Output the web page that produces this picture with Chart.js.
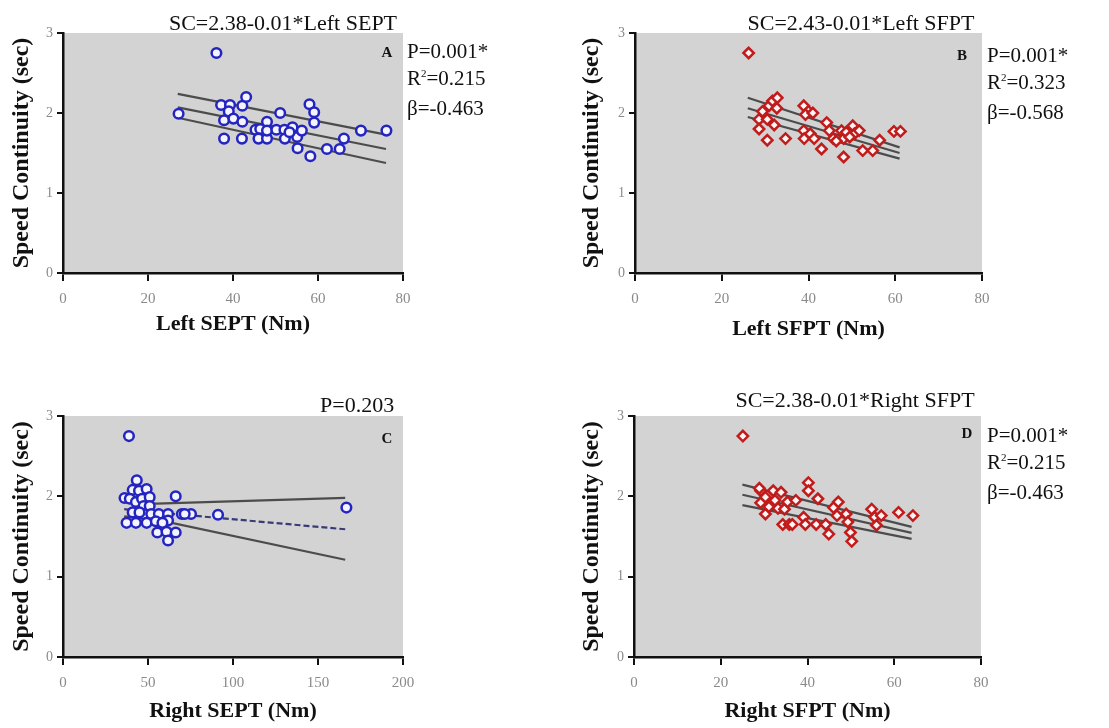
<!DOCTYPE html>
<html>
<head>
<meta charset="utf-8">
<script src="https://cdn.jsdelivr.net/npm/chart.js@4.4.1/dist/chart.umd.min.js"></script>
<style>
  body { margin: 0; background: #fff; width: 1109px; height: 728px; overflow: hidden; position: relative;
         font-family: 'Liberation Serif', 'Times New Roman', serif; color: #111; }
  canvas { position: absolute; }
  .t { position: absolute; white-space: nowrap; font-size: 22px; line-height: 25px; }
  .side { position: absolute; white-space: nowrap; font-size: 21px; line-height: 27px; }
  .side .sup { font-size: 11px; position: relative; top: -8px; }
  .tag { position: absolute; width: 30px; text-align: center; font-size: 15px; font-weight: bold; line-height: 18px; }
</style>
</head>
<body>
<canvas id="chartA" width="554" height="364" style="left:0;top:0"></canvas>
<canvas id="chartB" width="554" height="364" style="left:555px;top:0"></canvas>
<canvas id="chartC" width="554" height="364" style="left:0;top:364px"></canvas>
<canvas id="chartD" width="554" height="364" style="left:555px;top:364px"></canvas>

<div class="t" style="left:133px;top:10px;width:300px;text-align:center">SC=2.38-0.01*Left SEPT</div>
<div class="t" style="left:711px;top:10px;width:300px;text-align:center">SC=2.43-0.01*Left SFPT</div>
<div class="t" style="left:320px;top:392px">P=0.203</div>
<div class="t" style="left:705px;top:387px;width:300px;text-align:center">SC=2.38-0.01*Right SFPT</div>

<div class="side" style="left:407px;top:38px">P=0.001*<br>R<span class="sup">2</span>=0.215<br>β=-0.463</div>
<div class="side" style="left:987px;top:42px">P=0.001*<br>R<span class="sup">2</span>=0.323<br>β=-0.568</div>
<div class="side" style="left:987px;top:422px">P=0.001*<br>R<span class="sup">2</span>=0.215<br>β=-0.463</div>

<div class="tag" style="left:372px;top:43px">A</div>
<div class="tag" style="left:947px;top:46px">B</div>
<div class="tag" style="left:372px;top:429px">C</div>
<div class="tag" style="left:952px;top:424px">D</div>

<script>
// Tick labels
const yTicks = [0, 1, 2, 3];
const xTicksNarrow = [0, 20, 40, 60, 80];
const xTicksWide = [0, 50, 100, 150, 200];

// A - Left SEPT
const leftSeptX = [36.1, 27.2, 37.2, 39.3, 39.0, 37.9, 40.1, 42.2, 43.1, 42.2, 37.9, 42.1, 51.1, 48.0, 45.3, 46.4, 46.0, 48.0,
                   48.0, 50.2, 52.1, 52.2, 54.0, 55.1, 55.2, 56.2, 53.3, 58.0, 59.1, 59.1, 58.2, 62.1, 65.1, 66.1, 70.1, 76.1];
const leftSeptY = [2.75, 1.99, 2.10, 2.10, 2.02, 1.91, 1.93, 2.09, 2.20, 1.89, 1.68, 1.68, 2.00, 1.89, 1.79, 1.80, 1.68, 1.68,
                   1.78, 1.79, 1.79, 1.68, 1.82, 1.70, 1.56, 1.78, 1.76, 2.11, 2.01, 1.88, 1.46, 1.55, 1.55, 1.68, 1.78, 1.78];
const leftSeptLineX = [27, 76];
const leftSeptFit = [2.07, 1.55];
const leftSeptUpper = [2.24, 1.73];
const leftSeptLower = [1.94, 1.375];

// B - Left SFPT
const leftSfptX = [26.2, 28.6, 28.6, 29.4, 30.5, 30.9, 31.7, 32.8, 32.7, 30.5, 34.7, 38.9, 40.0, 39.3, 38.9, 39.0, 40.4, 41.3, 43.0,
                   44.2, 44.8, 45.7, 47.6, 48.1, 48.1, 48.7, 50.2, 50.6, 51.7, 52.5, 54.8, 56.4, 59.7, 61.2, 32.1, 46.4, 41.0, 49.5];
const leftSfptY = [2.75, 1.92, 1.80, 2.02, 1.92, 2.09, 2.15, 2.19, 2.06, 1.66, 1.68, 2.09, 2.02, 1.98, 1.78, 1.68, 1.74, 1.68, 1.55,
                   1.88, 1.78, 1.68, 1.78, 1.68, 1.45, 1.76, 1.84, 1.74, 1.78, 1.53, 1.53, 1.66, 1.77, 1.77, 1.85, 1.65, 2.00, 1.70];
const leftSfptLineX = [26, 61];
const leftSfptFit = [2.06, 1.50];
const leftSfptUpper = [2.19, 1.57];
const leftSfptLower = [1.95, 1.43];

// C - Right SEPT
const rightSeptX = [38.8, 36.2, 43.4, 41.0, 44.7, 49.2, 39.3, 42.9, 46.5, 51.0, 47.4, 51.0, 41.0, 47.4, 51.9, 56.4, 61.8, 69.9,
                    75.3, 37.4, 42.9, 49.2, 54.6, 61.8, 55.5, 60.9, 66.3, 61.8, 66.3, 91.2, 166.7, 71.6, 58.5, 45.0];
const rightSeptY = [2.75, 1.98, 2.20, 2.08, 2.07, 2.09, 1.97, 1.93, 1.97, 1.99, 1.88, 1.88, 1.80, 1.78, 1.78, 1.78, 1.78, 1.78,
                    1.78, 1.67, 1.67, 1.67, 1.69, 1.70, 1.55, 1.56, 1.55, 1.45, 2.00, 1.77, 1.86, 1.78, 1.67, 1.80];
const rightSeptLineX = [36, 55, 166];
const rightSeptFit = [1.84, 1.80, 1.59];
const rightSeptUpper = [1.93, 1.91, 1.98];
const rightSeptLower = [1.75, 1.71, 1.21];

// D - Right SFPT
const rightSfptX = [25.1, 29.2, 29.2, 30.3, 30.3, 32.1, 32.5, 31.1, 33.2, 33.9, 34.7, 35.4, 37.3, 34.3, 35.8, 39.1, 39.5, 40.2, 40.2,
                    42.4, 42.0, 44.2, 44.9, 46.0, 47.1, 46.8, 48.9, 49.3, 49.9, 50.2, 54.8, 55.5, 55.9, 57.0, 61.0, 64.3, 28.9, 36.5];
const rightSfptY = [2.75, 2.07, 1.92, 1.99, 1.78, 2.07, 1.95, 1.87, 1.85, 2.05, 1.84, 1.93, 1.95, 1.65, 1.65, 1.74, 1.65, 2.17, 2.07,
                    1.97, 1.65, 1.65, 1.53, 1.86, 1.93, 1.76, 1.78, 1.68, 1.55, 1.44, 1.84, 1.74, 1.64, 1.76, 1.80, 1.76, 2.10, 1.65];
const rightSfptLineX = [25, 64];
const rightSfptFit = [2.02, 1.545];
const rightSfptUpper = [2.145, 1.62];
const rightSfptLower = [1.89, 1.47];

Chart.defaults.font.family = "'Liberation Serif', 'Times New Roman', serif";

function toPoints(xs, ys) {
    return xs.map((x, i) => ({ x: x, y: ys[i] }));
}

// gray plot area behind the marks
const plotBg = {
    id: 'plotBg',
    beforeDraw(chart) {
        const { ctx, chartArea: a } = chart;
        ctx.save();
        ctx.fillStyle = '#d3d3d3';
        ctx.fillRect(a.left, a.top, a.right - a.left, a.bottom - a.top);
        ctx.restore();
    }
};

function lineSet(xs, ys, color, dash) {
    return {
        data: toPoints(xs, ys),
        showLine: true,
        borderColor: color,
        borderWidth: 2.2,
        borderDash: dash || [],
        pointRadius: 0,
        fill: false,
        tension: 0
    };
}

function makePanel(id, p) {
    const axisH = 70;
    new Chart(document.getElementById(id), {
        type: 'scatter',
        data: {
            datasets: [
                {
                    data: toPoints(p.xs, p.ys),
                    pointStyle: p.shape,
                    pointRadius: p.radius,
                    borderWidth: 2.5,
                    borderColor: p.color,
                    pointBorderColor: p.color,
                    backgroundColor: p.fill,
                    pointBackgroundColor: p.fill
                },
                lineSet(p.lineX, p.upper, '#4c4c4c'),
                lineSet(p.lineX, p.fit, p.fitColor || '#4c4c4c', p.fitDash),
                lineSet(p.lineX, p.lower, '#4c4c4c')
            ]
        },
        options: {
            responsive: false,
            animation: false,
            events: [],
            layout: {
                padding: { left: 0, top: p.top, right: 554 - p.right, bottom: 364 - p.bottom - axisH }
            },
            plugins: {
                legend: { display: false },
                tooltip: { enabled: false }
            },
            scales: {
                x: {
                    type: 'linear',
                    min: 0,
                    max: p.xMax,
                    afterBuildTicks: s => { s.ticks = p.xTicks.map(v => ({ value: v })); },
                    afterFit: s => { s.height = axisH; },
                    grid: { drawOnChartArea: false, drawTicks: true, tickLength: 8, color: '#111', lineWidth: 2 },
                    border: { display: true, color: '#111', width: 2.5 },
                    ticks: { color: '#8a8a8a', font: { size: 15 }, padding: 9, maxRotation: 0 },
                    title: {
                        display: true,
                        text: p.xTitle,
                        color: '#111',
                        font: { size: 22, weight: 'bold' },
                        padding: { top: 0, bottom: p.xTitlePad }
                    }
                },
                y: {
                    type: 'linear',
                    min: 0,
                    max: 3,
                    afterBuildTicks: s => { s.ticks = yTicks.map(v => ({ value: v })); },
                    afterFit: s => { s.width = p.left; },
                    grid: { drawOnChartArea: false, drawTicks: true, tickLength: 6, color: '#111', lineWidth: 2 },
                    border: { display: true, color: '#111', width: 2.5 },
                    ticks: { color: '#8a8a8a', font: { size: 14 }, padding: 4 },
                    title: {
                        display: true,
                        text: 'Speed Continuity (sec)',
                        color: '#111',
                        font: { size: 24, weight: 'bold' },
                        padding: { top: p.yTitlePad, bottom: 0 }
                    }
                }
            }
        },
        plugins: [plotBg]
    });
}

const blue = { shape: 'circle', radius: 4.8, color: '#2424c0', fill: '#f4f4ff' };
const red = { shape: 'rectRot', radius: 5.2, color: '#c01c1c', fill: '#fff4f4' };

makePanel('chartA', Object.assign({}, blue, {
    xs: leftSeptX, ys: leftSeptY, lineX: leftSeptLineX, fit: leftSeptFit, upper: leftSeptUpper, lower: leftSeptLower,
    xTicks: xTicksNarrow, xMax: 80, xTitle: 'Left SEPT (Nm)',
    left: 63, right: 403, top: 33, bottom: 273, xTitlePad: 5, yTitlePad: 7
}));

makePanel('chartB', Object.assign({}, red, {
    xs: leftSfptX, ys: leftSfptY, lineX: leftSfptLineX, fit: leftSfptFit, upper: leftSfptUpper, lower: leftSfptLower,
    xTicks: xTicksNarrow, xMax: 80, xTitle: 'Left SFPT (Nm)',
    left: 80, right: 427, top: 33, bottom: 273, xTitlePad: 0, yTitlePad: 22
}));

makePanel('chartC', Object.assign({}, blue, {
    xs: rightSeptX, ys: rightSeptY, lineX: rightSeptLineX, fit: rightSeptFit, upper: rightSeptUpper, lower: rightSeptLower,
    fitColor: '#3a3a78', fitDash: [6, 3],
    xTicks: xTicksWide, xMax: 200, xTitle: 'Right SEPT (Nm)',
    left: 63, right: 403, top: 52, bottom: 293, xTitlePad: 2, yTitlePad: 7
}));

makePanel('chartD', Object.assign({}, red, {
    xs: rightSfptX, ys: rightSfptY, lineX: rightSfptLineX, fit: rightSfptFit, upper: rightSfptUpper, lower: rightSfptLower,
    xTicks: xTicksNarrow, xMax: 80, xTitle: 'Right SFPT (Nm)',
    left: 79, right: 426, top: 52, bottom: 293, xTitlePad: 2, yTitlePad: 22
}));
</script>
</body>
</html>
